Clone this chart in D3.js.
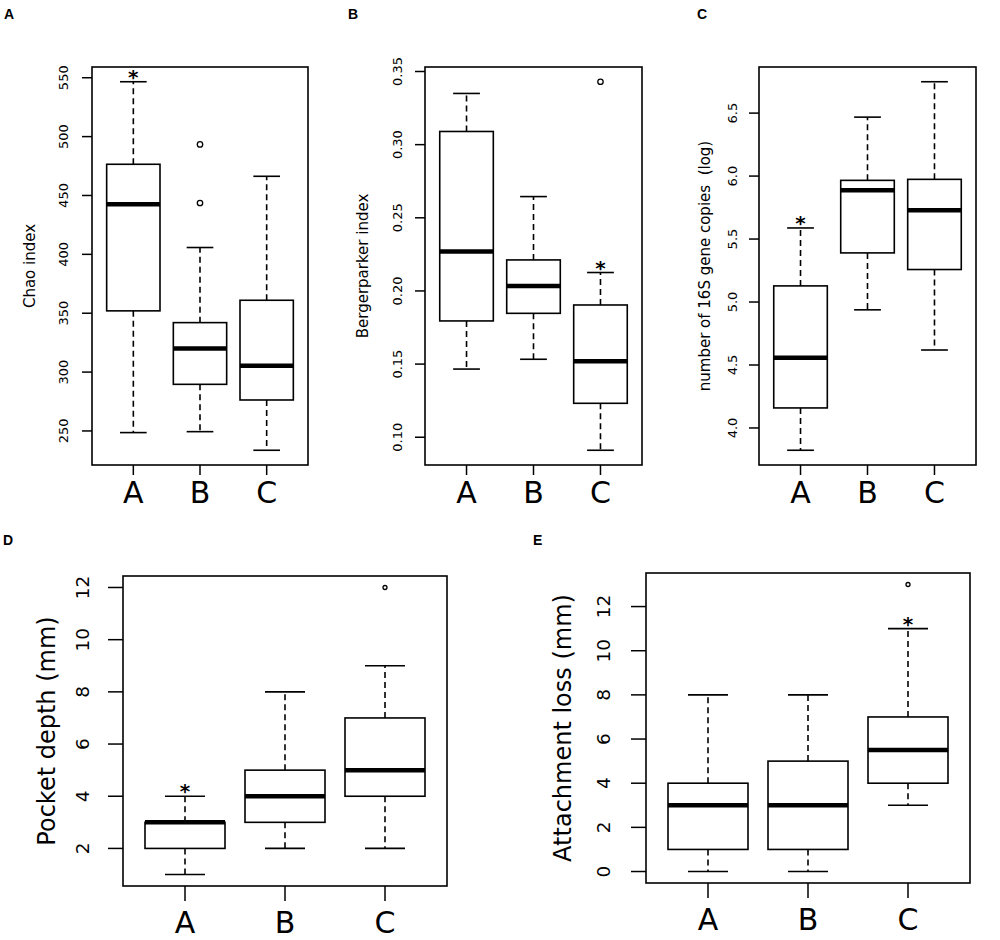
<!DOCTYPE html>
<html>
<head>
<meta charset="utf-8">
<script src="https://cdn.jsdelivr.net/npm/d3@7"></script>
<style>
  body { margin: 0; background: #fff; }
  text { font-family: "DejaVu Sans", sans-serif; fill: #000; }
  .panelLetter { font-family: "Liberation Sans", Arial, sans-serif; font-weight: bold; font-size: 14px; }
</style>
</head>
<body>
<div id="chart"></div>
<script>

var groups = ["A", "B", "C"];

// box summaries per group: [lower whisker, Q1, median, Q3, upper whisker]
var chaoStats = [[248.6, 352, 442.5, 476.5, 546.6], [249.4, 289.6, 320, 342, 405.8], [233.6, 276.3, 305.4, 361, 466.3]];
var chaoOutliers = [[], [493.4, 443.6], []];
var chaoTicks = [250, 300, 350, 400, 450, 500, 550];

var bergerStats = [[0.1466, 0.1795, 0.227, 0.309, 0.335], [0.1533, 0.1847, 0.2034, 0.2212, 0.2645], [0.0911, 0.1232, 0.152, 0.1904, 0.2126]];
var bergerOutliers = [[], [], [0.343]];
var bergerTicks = [0.10, 0.15, 0.20, 0.25, 0.30, 0.35];

var copiesStats = [[3.823, 4.159, 4.558, 5.128, 5.588], [4.938, 5.39, 5.887, 5.966, 6.468], [4.619, 5.258, 5.729, 5.974, 6.749]];
var copiesOutliers = [[], [], []];
var copiesTicks = [4.0, 4.5, 5.0, 5.5, 6.0, 6.5];

var pocketStats = [[1, 2, 3, 3, 4], [2, 3, 4, 5, 8], [2, 4, 5, 7, 9]];
var pocketOutliers = [[], [], [12]];
var pocketTicks = [2, 4, 6, 8, 10, 12];

var attachStats = [[0, 1, 3, 4, 8], [0, 1, 3, 5, 8], [3, 4, 5.5, 7, 11]];
var attachOutliers = [[], [], [13]];
var attachTicks = [0, 2, 4, 6, 8, 10, 12];

var svg = d3.select("#chart")
  .append("svg")
  .attr("width", 1000)
  .attr("height", 940);

var small = { tick: 10, tickFont: 13, labFont: 15, catFont: 30, catDy: 38, outR: 2.7 };
var large = { tick: 15, tickFont: 18.5, labFont: 24, catFont: 30, catDy: 47, outR: 2 };

var panels = [
  { letter: "A", lx: 4, ly: 19, stats: chaoStats, outliers: chaoOutliers, ticks: chaoTicks, fmt: d3.format("d"),
    ylab: "Chao index", star: 0, left: 92, right: 308, top: 67, bottom: 465, tickX: 63, ylabX: 30, s: small },
  { letter: "B", lx: 348, ly: 19, stats: bergerStats, outliers: bergerOutliers, ticks: bergerTicks, fmt: d3.format(".2f"),
    ylab: "Bergerparker index", star: 2, left: 425, right: 642, top: 67, bottom: 465, tickX: 397, ylabX: 363, s: small },
  { letter: "C", lx: 697, ly: 19, stats: copiesStats, outliers: copiesOutliers, ticks: copiesTicks, fmt: d3.format(".1f"),
    ylab: "number of 16S gene copies\u00a0\u00a0(log)", star: 0, left: 759, right: 976, top: 67, bottom: 465, tickX: 732, ylabX: 705, s: small },
  { letter: "D", lx: 3, ly: 545, stats: pocketStats, outliers: pocketOutliers, ticks: pocketTicks, fmt: d3.format("d"),
    ylab: "Pocket depth (mm)", star: 0, left: 123, right: 447, top: 576, bottom: 886, tickX: 82, ylabX: 47, s: large },
  { letter: "E", lx: 533, ly: 545, stats: attachStats, outliers: attachOutliers, ticks: attachTicks, fmt: d3.format("d"),
    ylab: "Attachment loss (mm)", star: 2, left: 646, right: 970, top: 573, bottom: 883, tickX: 603, ylabX: 563, s: large }
];

panels.forEach(function(p) {
  var g = svg.append("g");
  var s = p.s;

  // R style limits: data range padded by 4%
  var all = d3.merge(p.stats.concat(p.outliers));
  var lo = d3.min(all), hi = d3.max(all), pad = (hi - lo) * 0.04;
  var y = d3.scaleLinear().domain([lo - pad, hi + pad]).range([p.bottom, p.top]);
  var x = d3.scaleLinear().domain([0.38, 3.62]).range([p.left, p.right]);
  var unit = x(1) - x(0);
  var halfBox = unit * 0.4;
  var halfCap = unit * 0.2;

  g.append("text")
    .attr("class", "panelLetter")
    .attr("x", p.lx)
    .attr("y", p.ly)
    .text(p.letter);

  // y axis ticks and labels
  g.selectAll("line.ytick")
    .data(p.ticks)
    .enter()
    .append("line")
    .attr("class", "ytick")
    .attr("x1", p.left - s.tick)
    .attr("x2", p.left)
    .attr("y1", function(d) { return y(d); })
    .attr("y2", function(d) { return y(d); })
    .attr("stroke", "#000")
    .attr("stroke-width", 1.5);

  g.selectAll("text.ylabel")
    .data(p.ticks)
    .enter()
    .append("text")
    .attr("class", "ylabel")
    .attr("transform", function(d) { return "translate(" + p.tickX + "," + y(d) + ") rotate(-90)"; })
    .attr("text-anchor", "middle")
    .attr("dominant-baseline", "central")
    .attr("font-size", s.tickFont)
    .text(function(d) { return p.fmt(d); });

  g.append("text")
    .attr("transform", "translate(" + p.ylabX + "," + ((p.top + p.bottom) / 2) + ") rotate(-90)")
    .attr("text-anchor", "middle")
    .attr("dominant-baseline", "central")
    .attr("font-size", s.labFont)
    .text(p.ylab);

  // x axis ticks and group names
  g.selectAll("line.xtick")
    .data(groups)
    .enter()
    .append("line")
    .attr("class", "xtick")
    .attr("x1", function(d, i) { return x(i + 1); })
    .attr("x2", function(d, i) { return x(i + 1); })
    .attr("y1", p.bottom)
    .attr("y2", p.bottom + s.tick)
    .attr("stroke", "#000")
    .attr("stroke-width", 1.5);

  g.selectAll("text.xlabel")
    .data(groups)
    .enter()
    .append("text")
    .attr("class", "xlabel")
    .attr("x", function(d, i) { return x(i + 1); })
    .attr("y", p.bottom + s.catDy)
    .attr("text-anchor", "middle")
    .attr("font-size", s.catFont)
    .text(function(d) { return d; });

  var boxes = g.selectAll("g.box")
    .data(p.stats)
    .enter()
    .append("g")
    .attr("class", "box");

  // whiskers
  boxes.append("line")
    .attr("x1", function(d, i) { return x(i + 1); })
    .attr("x2", function(d, i) { return x(i + 1); })
    .attr("y1", function(d) { return y(d[3]); })
    .attr("y2", function(d) { return y(d[4]); })
    .attr("stroke", "#000")
    .attr("stroke-width", 1.6)
    .attr("stroke-dasharray", "6,4");

  boxes.append("line")
    .attr("x1", function(d, i) { return x(i + 1); })
    .attr("x2", function(d, i) { return x(i + 1); })
    .attr("y1", function(d) { return y(d[1]); })
    .attr("y2", function(d) { return y(d[0]); })
    .attr("stroke", "#000")
    .attr("stroke-width", 1.6)
    .attr("stroke-dasharray", "6,4");

  // caps
  [0, 4].forEach(function(k) {
    boxes.append("line")
      .attr("x1", function(d, i) { return x(i + 1) - halfCap; })
      .attr("x2", function(d, i) { return x(i + 1) + halfCap; })
      .attr("y1", function(d) { return y(d[k]); })
      .attr("y2", function(d) { return y(d[k]); })
      .attr("stroke", "#000")
      .attr("stroke-width", 1.6);
  });

  boxes.append("rect")
    .attr("x", function(d, i) { return x(i + 1) - halfBox; })
    .attr("width", halfBox * 2)
    .attr("y", function(d) { return y(d[3]); })
    .attr("height", function(d) { return y(d[1]) - y(d[3]); })
    .attr("fill", "#fff")
    .attr("stroke", "#000")
    .attr("stroke-width", 1.6);

  boxes.append("line")
    .attr("x1", function(d, i) { return x(i + 1) - halfBox; })
    .attr("x2", function(d, i) { return x(i + 1) + halfBox; })
    .attr("y1", function(d) { return y(d[2]); })
    .attr("y2", function(d) { return y(d[2]); })
    .attr("stroke", "#000")
    .attr("stroke-width", 4.5);

  // outliers
  p.outliers.forEach(function(vals, i) {
    g.selectAll(null)
      .data(vals)
      .enter()
      .append("circle")
      .attr("cx", x(i + 1))
      .attr("cy", function(d) { return y(d); })
      .attr("r", s.outR)
      .attr("fill", "none")
      .attr("stroke", "#000")
      .attr("stroke-width", 1.3);
  });

  // significance star over the upper whisker
  g.append("text")
    .attr("x", x(p.star + 1))
    .attr("y", y(p.stats[p.star][4]) + 2)
    .attr("text-anchor", "middle")
    .attr("font-size", 20)
    .attr("font-weight", "bold")
    .text("*");

  g.append("rect")
    .attr("x", p.left)
    .attr("y", p.top)
    .attr("width", p.right - p.left)
    .attr("height", p.bottom - p.top)
    .attr("fill", "none")
    .attr("stroke", "#000")
    .attr("stroke-width", 1.6);
});

</script>
</body>
</html>
